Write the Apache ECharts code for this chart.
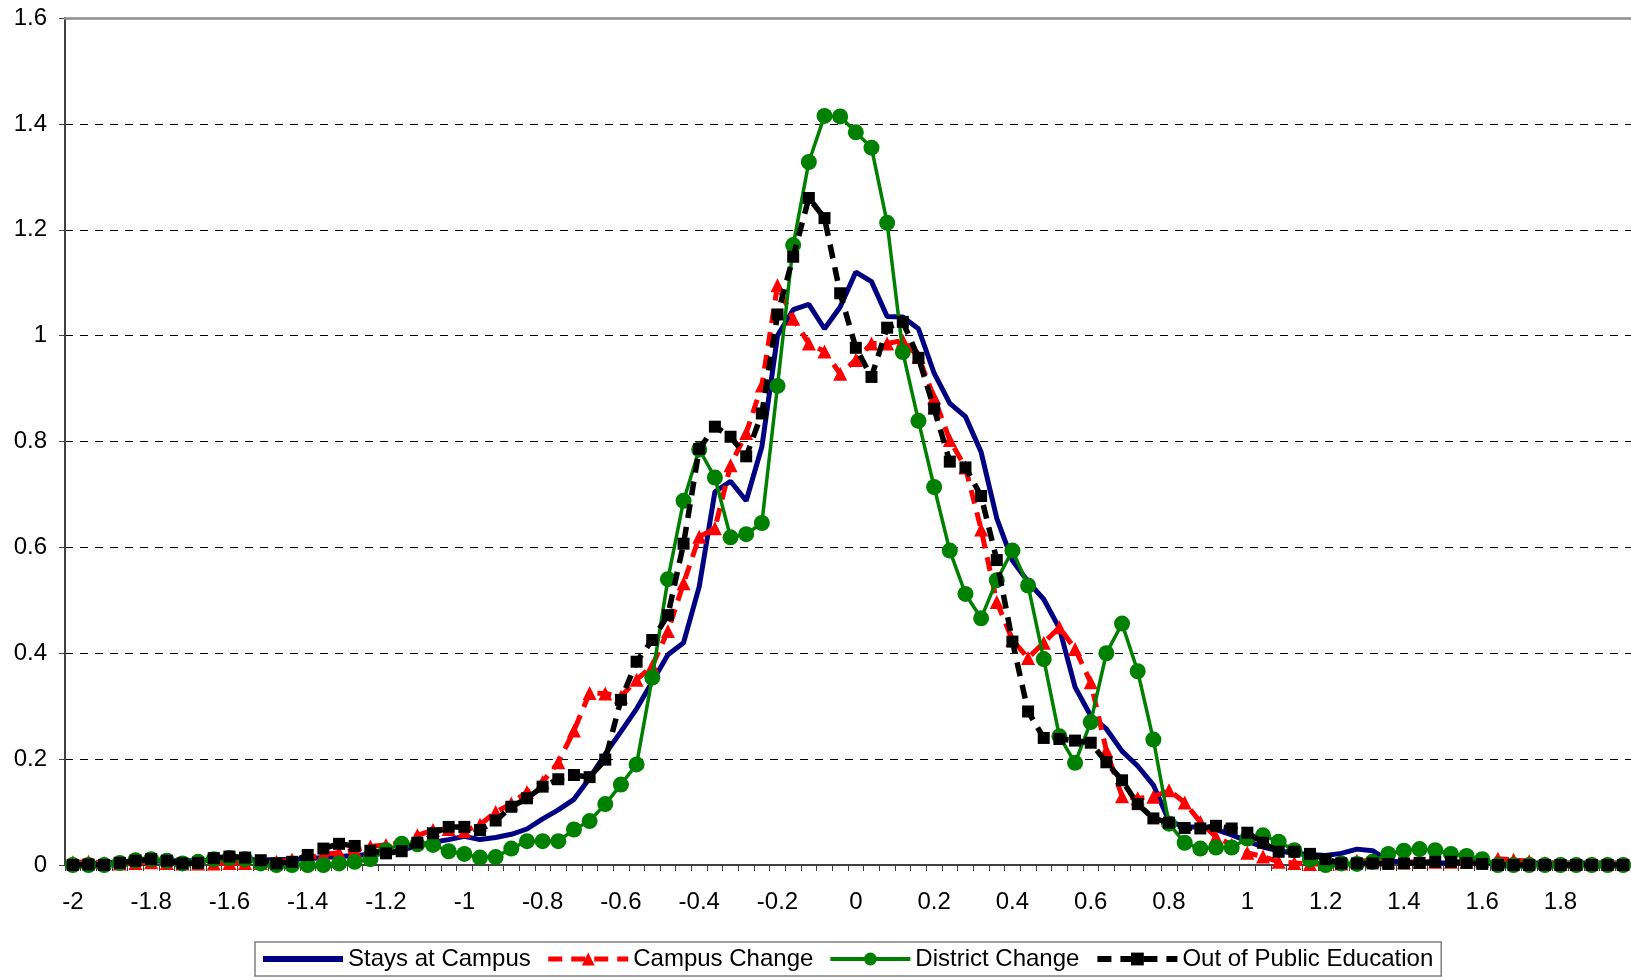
<!DOCTYPE html>
<html>
<head>
<meta charset="utf-8">
<script src="https://cdn.jsdelivr.net/npm/echarts@6/dist/echarts.min.js"></script>
<style>
html,body{margin:0;padding:0;background:#fff;}
#chart{width:1631px;height:980px;}
</style>
</head>
<body>
<div id="chart"></div>
<script>
const categories = ["-2","-1.96","-1.92","-1.88","-1.84","-1.8","-1.76","-1.72","-1.68","-1.64",
"-1.6","-1.56","-1.52","-1.48","-1.44","-1.4","-1.36","-1.32","-1.28","-1.24",
"-1.2","-1.16","-1.12","-1.08","-1.04","-1","-0.96","-0.92","-0.88","-0.84",
"-0.8","-0.76","-0.72","-0.68","-0.64","-0.6","-0.56","-0.52","-0.48","-0.44",
"-0.4","-0.36","-0.32","-0.28","-0.24","-0.2","-0.16","-0.12","-0.08","-0.04",
"0","0.04","0.08","0.12","0.16","0.2","0.24","0.28","0.32","0.36",
"0.4","0.44","0.48","0.52","0.56","0.6","0.64","0.68","0.72","0.76",
"0.8","0.84","0.88","0.92","0.96","1","1.04","1.08","1.12","1.16",
"1.2","1.24","1.28","1.32","1.36","1.4","1.44","1.48","1.52","1.56",
"1.6","1.64","1.68","1.72","1.76","1.8","1.84","1.88","1.92","1.96"];

const staysAtCampus = [
0.003,0.003,0.004,0.005,0.006,0.007,0.008,0.008,0.008,0.009,
0.01,0.01,0.01,0.01,0.011,0.012,0.014,0.016,0.018,0.02,
0.022,0.028,0.036,0.043,0.048,0.054,0.048,0.052,0.058,0.068,
0.087,0.104,0.124,0.164,0.21,0.252,0.295,0.346,0.397,0.42,
0.526,0.705,0.725,0.688,0.79,1.0,1.049,1.059,1.013,1.054,
1.12,1.102,1.036,1.035,1.013,0.929,0.872,0.847,0.78,0.655,
0.575,0.535,0.502,0.447,0.336,0.282,0.257,0.215,0.187,0.151,
0.083,0.072,0.072,0.067,0.057,0.045,0.034,0.027,0.022,0.02,
0.018,0.022,0.03,0.027,0.008,0.005,0.005,0.004,0.004,0.004,
0.004,0.004,0.004,0.004,0.004,0.004,0.004,0.004,0.004,0.004];

const campusChange = [
0.005,0.006,0.004,0.003,0.004,0.005,0.004,0.003,0.003,0.003,
0.004,0.004,0.004,0.006,0.01,0.013,0.02,0.023,0.028,0.035,
0.038,0.042,0.056,0.066,0.068,0.064,0.076,0.1,0.116,0.138,
0.157,0.194,0.254,0.325,0.324,0.318,0.35,0.376,0.442,0.532,
0.62,0.636,0.755,0.816,0.906,1.095,1.032,0.985,0.97,0.928,
0.954,0.985,0.985,0.991,0.96,0.883,0.803,0.751,0.634,0.497,
0.425,0.391,0.42,0.449,0.408,0.345,0.216,0.13,0.126,0.129,
0.141,0.118,0.081,0.053,0.038,0.023,0.016,0.006,0.004,0.002,
0.002,0.003,0.008,0.008,0.006,0.005,0.006,0.006,0.006,0.006,
0.008,0.012,0.01,0.007,0.004,0.003,0.003,0.003,0.003,0.003];

const districtChange = [
0,0,0,0.004,0.009,0.011,0.008,0.003,0.006,0.011,
0.013,0.011,0.003,0,0,0,0,0.003,0.006,0.011,
0.028,0.04,0.039,0.038,0.026,0.021,0.014,0.015,0.031,0.045,
0.045,0.045,0.067,0.083,0.115,0.152,0.19,0.354,0.54,0.688,
0.785,0.732,0.619,0.625,0.646,0.905,1.171,1.328,1.415,1.414,
1.384,1.355,1.213,0.969,0.839,0.714,0.594,0.512,0.466,0.538,
0.594,0.528,0.389,0.243,0.193,0.27,0.4,0.456,0.366,0.237,
0.078,0.042,0.031,0.033,0.033,0.05,0.056,0.044,0.028,0.01,
0,0.003,0.002,0.006,0.021,0.027,0.03,0.028,0.021,0.017,
0.011,0,0,0,0,0,0,0,0,0];

const outOfPublicEducation = [
0,0.001,0,0.004,0.008,0.011,0.008,0.003,0.004,0.013,
0.016,0.014,0.009,0.003,0.006,0.019,0.031,0.04,0.036,0.027,
0.022,0.026,0.042,0.06,0.072,0.072,0.066,0.084,0.11,0.126,
0.148,0.162,0.17,0.166,0.199,0.312,0.384,0.425,0.472,0.607,
0.786,0.828,0.809,0.772,0.853,1.04,1.149,1.26,1.222,1.08,
0.977,0.922,1.015,1.026,0.958,0.862,0.762,0.751,0.697,0.576,
0.422,0.29,0.24,0.238,0.235,0.231,0.194,0.16,0.115,0.088,
0.08,0.07,0.069,0.074,0.069,0.061,0.042,0.025,0.025,0.021,
0.011,0.003,0.003,0.003,0.002,0.003,0.004,0.006,0.006,0.004,
0.002,0,0,0,0,0,0,0,0,0];

const seriesNames = ["Stays at Campus","Campus Change","District Change","Out of Public Education"];
const yTicks = {min:0, max:1.6, interval:0.2};

const font = "'Liberation Sans', Arial, sans-serif";
const chart = echarts.init(document.getElementById('chart'), null, {renderer:'canvas'});
chart.setOption({
  animation:false,
  backgroundColor:'#ffffff',
  textStyle:{fontFamily:font,color:'#000'},
  grid:{left:65, top:18, width:1568, height:847, containLabel:false},
  legend:{
    left:255, top:942,
    orient:'horizontal',
    padding:[5,8,5,8],
    borderColor:'#808080', borderWidth:1.5,
    itemWidth:80, itemHeight:16, itemGap:15,
    textStyle:{fontFamily:font,fontSize:24,color:'#000'},
    data:[
      {name:seriesNames[0], icon:'path://M0,0 H80 V6 H0 Z'},
      {name:seriesNames[1], lineStyle:{width:5}},
      {name:seriesNames[2], lineStyle:{width:4}},
      {name:seriesNames[3], lineStyle:{width:6}}
    ]
  },
  xAxis:[{
    type:'category', data:categories, boundaryGap:true, position:'bottom',
    axisLine:{show:true, onZero:false, lineStyle:{color:'#404040', width:2}},
    axisTick:{show:true, interval:0, alignWithLabel:false, length:6, inside:false, lineStyle:{color:'#404040', width:1}},
    axisLabel:{interval:4, margin:25, fontSize:24, color:'#000', fontFamily:font},
    splitLine:{show:false}
  },{
    type:'category', data:categories, boundaryGap:true, position:'top', z:10,
    axisLine:{show:true, onZero:false, lineStyle:{color:'#8c8c8c', width:2.5}},
    axisTick:{show:false}, axisLabel:{show:false}, splitLine:{show:false}
  }],
  yAxis:{
    type:'value', min:yTicks.min, max:yTicks.max, interval:yTicks.interval,
    axisLine:{show:true, lineStyle:{color:'#404040', width:2}},
    axisTick:{show:true, length:6, lineStyle:{color:'#404040', width:1}},
    axisLabel:{margin:18, fontSize:24, color:'#000', fontFamily:font},
    splitLine:{show:true, lineStyle:{color:'#000', width:1, type:[8,7]}}
  },
  series:[
    {name:seriesNames[0], type:'line', data:staysAtCampus, symbol:'none', z:2,
     lineStyle:{color:'#000080', width:5}, itemStyle:{color:'#000080'}},
    {name:seriesNames[1], type:'line', data:campusChange, symbol:'triangle', symbolSize:14, showAllSymbol:true, z:3,
     lineStyle:{color:'#ff0000', width:5, type:[14,9]}, itemStyle:{color:'#ff0000', borderWidth:0}},
    {name:seriesNames[2], type:'line', data:districtChange, symbol:'circle', symbolSize:16, showAllSymbol:true, z:4,
     lineStyle:{color:'#008000', width:3.5}, itemStyle:{color:'#008000', borderWidth:0}},
    {name:seriesNames[3], type:'line', data:outOfPublicEducation, symbol:'rect', symbolSize:12, showAllSymbol:true, z:5,
     lineStyle:{color:'#000000', width:5.5, type:[14,9]}, itemStyle:{color:'#000000', borderWidth:0}}
  ]
});
</script>
</body>
</html>
